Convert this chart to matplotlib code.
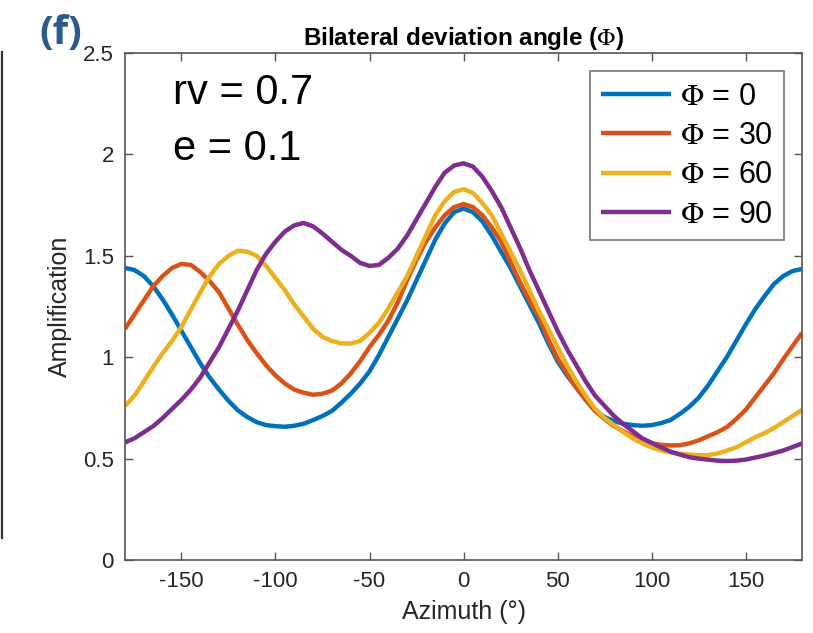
import numpy as np
import matplotlib
matplotlib.use('Agg')
import matplotlib.pyplot as plt
from matplotlib.lines import Line2D

plt.rcParams['font.family'] = ['Liberation Sans', 'DejaVu Sans']
plt.rcParams['mathtext.fontset'] = 'stix'
plt.rcParams['axes.unicode_minus'] = False

# azimuth grid (deg) and amplification for each bilateral deviation angle
azimuth = np.arange(-180, 181, 5)

amp_phi0 = [1.44, 1.43, 1.40, 1.35, 1.285, 1.21, 1.13, 1.05, 0.97, 0.90,
            0.84, 0.785, 0.738, 0.705, 0.68, 0.665, 0.66, 0.657, 0.662, 0.672,
            0.69, 0.71, 0.735, 0.775, 0.82, 0.87, 0.93, 1.01, 1.10, 1.19,
            1.28, 1.38, 1.48, 1.58, 1.66, 1.715, 1.733,
            1.715, 1.67, 1.60, 1.52, 1.44, 1.35, 1.26, 1.17, 1.07, 0.98,
            0.91, 0.85, 0.79, 0.735, 0.705, 0.685, 0.672, 0.665, 0.662, 0.665,
            0.675, 0.69, 0.72, 0.755, 0.80, 0.86, 0.93, 1.00, 1.08, 1.16,
            1.235, 1.30, 1.36, 1.40, 1.425, 1.435]

amp_phi30 = [1.14, 1.21, 1.28, 1.35, 1.40, 1.44, 1.46, 1.455, 1.42, 1.375,
             1.32, 1.24, 1.16, 1.085, 1.02, 0.96, 0.91, 0.87, 0.84, 0.825,
             0.815, 0.82, 0.835, 0.87, 0.92, 0.98, 1.05, 1.11, 1.18, 1.27,
             1.38, 1.48, 1.57, 1.64, 1.70, 1.74, 1.755,
             1.74, 1.70, 1.64, 1.57, 1.47, 1.37, 1.28, 1.20, 1.09, 0.995,
             0.92, 0.85, 0.79, 0.735, 0.695, 0.66, 0.635, 0.61, 0.59, 0.575,
             0.568, 0.565, 0.566, 0.575, 0.59, 0.61, 0.63, 0.655, 0.695, 0.74,
             0.80, 0.86, 0.92, 0.99, 1.055, 1.12]

amp_phi60 = [0.76, 0.81, 0.88, 0.952, 1.02, 1.08, 1.15, 1.235, 1.32, 1.40,
             1.46, 1.50, 1.525, 1.52, 1.50, 1.45, 1.39, 1.33, 1.26, 1.20,
             1.14, 1.10, 1.08, 1.068, 1.067, 1.08, 1.12, 1.17, 1.24, 1.32,
             1.40, 1.50, 1.60, 1.70, 1.77, 1.815, 1.828,
             1.81, 1.76, 1.70, 1.61, 1.52, 1.43, 1.33, 1.23, 1.14, 1.05,
             0.96, 0.88, 0.81, 0.745, 0.70, 0.665, 0.63, 0.60, 0.575, 0.555,
             0.54, 0.53, 0.524, 0.52, 0.517, 0.517, 0.525, 0.54, 0.555, 0.58,
             0.605, 0.625, 0.65, 0.68, 0.71, 0.74]

amp_phi90 = [0.58, 0.60, 0.63, 0.66, 0.70, 0.745, 0.79, 0.84, 0.90, 0.975,
             1.05, 1.14, 1.23, 1.33, 1.43, 1.51, 1.57, 1.62, 1.65, 1.662,
             1.645, 1.61, 1.57, 1.53, 1.50, 1.465, 1.45, 1.455, 1.49, 1.535,
             1.60, 1.68, 1.76, 1.84, 1.91, 1.945, 1.956,
             1.94, 1.89, 1.82, 1.74, 1.64, 1.54, 1.43, 1.33, 1.23, 1.13,
             1.04, 0.96, 0.88, 0.81, 0.76, 0.71, 0.67, 0.635, 0.60, 0.578,
             0.555, 0.535, 0.52, 0.507, 0.50, 0.495, 0.49, 0.488, 0.49, 0.495,
             0.505, 0.515, 0.527, 0.54, 0.557, 0.575]

phi_labels = [r'$\Phi$ = 0', r'$\Phi$ = 30', r'$\Phi$ = 60', r'$\Phi$ = 90']
colors = ['#0072BD', '#D95319', '#EDB120', '#7E2F8E']

fig = plt.figure(figsize=(8.13, 6.33), dpi=100)
ax = fig.add_axes([0.1538, 0.1153, 0.8327, 0.801])

for vals, lab, c in zip([amp_phi0, amp_phi30, amp_phi60, amp_phi90], phi_labels, colors):
    ax.plot(azimuth, vals, color=c, lw=3.2, label=lab,
            solid_joinstyle='round', solid_capstyle='butt')

ax.set_xlim(-180, 180)
ax.set_ylim(0, 2.5)
ax.set_xticks([-150, -100, -50, 0, 50, 100, 150])
ax.set_yticks([0, 0.5, 1, 1.5, 2, 2.5])
ax.set_yticklabels(['0', '0.5', '1', '1.5', '2', '2.5'])

axcol = '#262626'
for s in ax.spines.values():
    s.set_color('#555555')
    s.set_linewidth(1.2)
ax.tick_params(direction='in', length=6, width=1, colors='#555555',
               labelcolor=axcol, labelsize=16, top=True, right=True, pad=8)

ax.set_xlabel('Azimuth (°)', fontsize=18, color=axcol, labelpad=6)
ax.set_ylabel('Amplification', fontsize=18, color=axcol, labelpad=8)
ax.set_title(r'Bilateral deviation angle ($\Phi$)', fontsize=17.5,
             fontweight='bold', pad=6)

ax.text(0.071, 0.899, 'rv = 0.7', transform=ax.transAxes, fontsize=30,
        va='baseline')
ax.text(0.071, 0.789, 'e = 0.1', transform=ax.transAxes, fontsize=30,
        va='baseline')

leg = ax.legend(loc='upper right', fontsize=22, frameon=True, fancybox=False,
                handlelength=2.3, handletextpad=0.3, labelspacing=0.3,
                borderpad=0.35, borderaxespad=0.6)
leg.get_frame().set_edgecolor('#555555')
leg.get_frame().set_linewidth(1.2)

# panel letter and edge of the neighbouring panel
fig.text(0.048, 0.93, '(f)', fontsize=29, fontweight='bold',
         color='#2B5A8C', family=['Open Sans', 'DejaVu Sans'])
fig.add_artist(Line2D([0.002, 0.002], [1 - 52 / 633, 1 - 538 / 633],
                      color='#333333', lw=1.6, transform=fig.transFigure))

fig.savefig('out.png', dpi=100)
